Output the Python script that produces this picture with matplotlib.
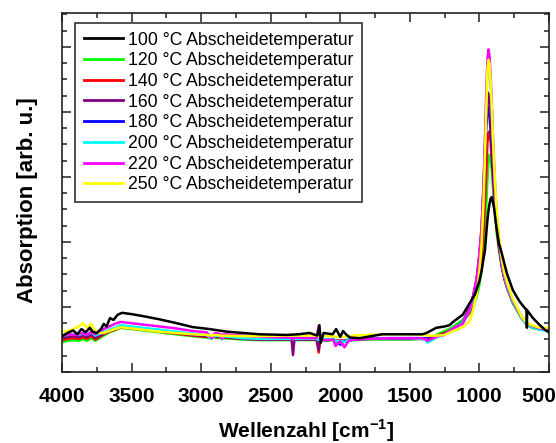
import matplotlib
matplotlib.use("Agg")
import matplotlib.pyplot as plt
from matplotlib.ticker import MultipleLocator
from matplotlib.transforms import ScaledTranslation

plt.rcParams['font.family'] = 'Liberation Sans'
plt.rcParams['mathtext.fontset'] = 'custom'
plt.rcParams['mathtext.rm'] = 'Liberation Sans'
plt.rcParams['mathtext.bf'] = 'Liberation Sans:bold'

# ---------------------------------------------------------------- data
labels = ["100 °C Abscheidetemperatur", "120 °C Abscheidetemperatur",
          "140 °C Abscheidetemperatur", "160 °C Abscheidetemperatur",
          "180 °C Abscheidetemperatur", "200 °C Abscheidetemperatur",
          "220 °C Abscheidetemperatur", "250 °C Abscheidetemperatur"]
colors = ["#000000", "#00ff00", "#ff0000", "#800080",
          "#0000ff", "#00ffff", "#ff00ff", "#ffff00"]

x_ticks = [4000, 3500, 3000, 2500, 2000, 1500, 1000, 500]
x_ticklabels = ["4000", "3500", "3000", "2500", "2000", "1500", "1000", "500"]

# 100 °C spectrum (own sampling, includes the noise spikes)
wn_100 = [4000, 3960, 3920, 3890, 3860, 3830, 3800, 3780, 3750, 3720,
          3700, 3680, 3655, 3630, 3600, 3569, 3500, 3420, 3300, 3175,
          3060, 2940, 2815, 2700, 2580, 2385, 2300, 2220, 2165, 2150,
          2140, 2120, 2055, 2030, 2000, 1980, 1955, 1930, 1860, 1700,
          1410, 1380, 1310, 1250, 1215, 1190, 1120, 1070, 1033, 1000,
          985, 970, 960, 950, 942, 935, 928, 920, 912, 905,
          895, 885, 875, 860, 840, 820, 803, 780, 760, 730,
          710, 665, 661, 659, 657, 616, 566, 530, 500]
abs_100 = [0.55, 0.60, 0.64, 0.58, 0.66, 0.61, 0.68, 0.62, 0.60, 0.66,
           0.74, 0.70, 0.83, 0.80, 0.88, 0.91, 0.89, 0.86, 0.81, 0.75,
           0.69, 0.66, 0.62, 0.60, 0.58, 0.57, 0.58, 0.60, 0.56, 0.72,
           0.45, 0.60, 0.58, 0.66, 0.54, 0.63, 0.57, 0.53, 0.52, 0.58,
           0.58, 0.60, 0.68, 0.70, 0.72, 0.77, 0.88, 1.06, 1.19, 1.40,
           1.55, 1.75, 1.88, 2.15, 2.35, 2.48, 2.58, 2.66, 2.69, 2.63,
           2.52, 2.35, 2.19, 1.98, 1.83, 1.66, 1.52, 1.38, 1.26, 1.15,
           1.08, 0.96, 0.96, 0.68, 0.95, 0.83, 0.72, 0.65, 0.61]

# common wavenumber sampling for the 120-250 °C spectra
wn_grid = [4000, 3960, 3920, 3880, 3850, 3820, 3790, 3760, 3730, 3700,
           3660, 3620, 3580, 3540, 3500, 3420, 3300, 3180, 3060, 2960,
           2925, 2900, 2860, 2850, 2840, 2700, 2580, 2400, 2350, 2340,
           2330, 2250, 2170, 2155, 2145, 2100, 2050, 2035, 2000, 1970,
           1940, 1900, 1800, 1650, 1500, 1420, 1385, 1375, 1300, 1250,
           1200, 1120, 1070, 1045, 1020, 1000, 985, 970, 960, 950,
           942, 935, 928, 920, 912, 905, 895, 885, 875, 860,
           840, 820, 800, 780, 760, 730, 700, 665, 625, 566,
           530, 500]

abs_120 = [0.46, 0.48, 0.49, 0.48, 0.50, 0.48, 0.52, 0.48, 0.52, 0.56,
           0.61, 0.64, 0.68, 0.67, 0.66, 0.64, 0.61, 0.58, 0.55, 0.53,
           0.52, 0.53, 0.52, 0.51, 0.52, 0.50, 0.49, 0.49, 0.49, 0.49,
           0.49, 0.49, 0.49, 0.47, 0.49, 0.48, 0.49, 0.47, 0.48, 0.47,
           0.48, 0.49, 0.50, 0.50, 0.50, 0.51, 0.51, 0.51, 0.58, 0.63,
           0.68, 0.80, 0.90, 1.00, 1.15, 1.35, 1.55, 1.85, 2.20, 2.60,
           3.00, 3.25, 3.34, 3.30, 3.12, 2.92, 2.62, 2.35, 2.12, 1.88,
           1.61, 1.42, 1.28, 1.17, 1.06, 0.95, 0.83, 0.74, 0.68, 0.65,
           0.65, 0.64]

abs_140 = [0.49, 0.51, 0.52, 0.51, 0.53, 0.51, 0.55, 0.50, 0.54, 0.58,
           0.62, 0.65, 0.69, 0.68, 0.67, 0.65, 0.62, 0.59, 0.56, 0.54,
           0.53, 0.54, 0.53, 0.52, 0.53, 0.51, 0.50, 0.50, 0.50, 0.49,
           0.50, 0.50, 0.50, 0.30, 0.50, 0.49, 0.50, 0.48, 0.49, 0.48,
           0.49, 0.50, 0.51, 0.51, 0.51, 0.51, 0.51, 0.51, 0.56, 0.60,
           0.64, 0.76, 0.92, 1.05, 1.25, 1.50, 1.75, 2.20, 2.65, 3.10,
           3.55, 3.68, 3.70, 3.55, 3.30, 3.05, 2.72, 2.42, 2.18, 1.92,
           1.63, 1.43, 1.29, 1.18, 1.07, 0.96, 0.84, 0.75, 0.69, 0.66,
           0.66, 0.66]

abs_160 = [0.52, 0.54, 0.55, 0.54, 0.56, 0.54, 0.58, 0.53, 0.56, 0.59,
           0.63, 0.66, 0.70, 0.69, 0.68, 0.66, 0.63, 0.60, 0.57, 0.55,
           0.54, 0.55, 0.54, 0.53, 0.54, 0.51, 0.50, 0.50, 0.50, 0.26,
           0.50, 0.50, 0.50, 0.34, 0.50, 0.49, 0.50, 0.47, 0.48, 0.47,
           0.49, 0.50, 0.51, 0.51, 0.51, 0.51, 0.51, 0.50, 0.55, 0.59,
           0.64, 0.77, 1.00, 1.17, 1.42, 1.80, 2.20, 2.88, 3.45, 4.00,
           4.30, 4.28, 4.12, 3.88, 3.58, 3.28, 2.90, 2.54, 2.25, 1.96,
           1.65, 1.44, 1.30, 1.19, 1.08, 0.97, 0.85, 0.76, 0.70, 0.66,
           0.65, 0.64]

abs_180 = [0.54, 0.56, 0.57, 0.56, 0.58, 0.56, 0.60, 0.55, 0.58, 0.60,
           0.64, 0.67, 0.71, 0.70, 0.69, 0.67, 0.64, 0.61, 0.58, 0.56,
           0.54, 0.56, 0.55, 0.53, 0.55, 0.52, 0.51, 0.51, 0.51, 0.48,
           0.51, 0.51, 0.51, 0.46, 0.51, 0.50, 0.50, 0.48, 0.42, 0.48,
           0.50, 0.51, 0.52, 0.52, 0.52, 0.52, 0.52, 0.51, 0.55, 0.58,
           0.64, 0.76, 0.98, 1.16, 1.42, 1.78, 2.15, 2.80, 3.30, 3.80,
           4.05, 4.08, 3.95, 3.72, 3.46, 3.18, 2.88, 2.54, 2.26, 1.97,
           1.66, 1.45, 1.30, 1.19, 1.08, 0.97, 0.85, 0.76, 0.70, 0.66,
           0.65, 0.64]

abs_200 = [0.56, 0.57, 0.58, 0.57, 0.59, 0.57, 0.61, 0.56, 0.59, 0.61,
           0.65, 0.68, 0.72, 0.71, 0.70, 0.68, 0.65, 0.62, 0.59, 0.57,
           0.51, 0.56, 0.55, 0.50, 0.55, 0.52, 0.51, 0.51, 0.51, 0.50,
           0.51, 0.51, 0.51, 0.49, 0.51, 0.50, 0.51, 0.47, 0.48, 0.46,
           0.50, 0.51, 0.51, 0.52, 0.52, 0.51, 0.50, 0.45, 0.54, 0.57,
           0.64, 0.76, 0.95, 1.12, 1.38, 1.75, 2.15, 2.85, 3.50, 4.20,
           4.62, 4.75, 4.68, 4.42, 4.06, 3.66, 3.18, 2.72, 2.38, 2.03,
           1.68, 1.46, 1.30, 1.19, 1.08, 0.97, 0.84, 0.75, 0.69, 0.65,
           0.64, 0.63]

abs_220 = [0.56, 0.58, 0.57, 0.58, 0.60, 0.57, 0.62, 0.58, 0.62, 0.66,
           0.70, 0.74, 0.77, 0.76, 0.75, 0.73, 0.70, 0.67, 0.63, 0.61,
           0.52, 0.60, 0.58, 0.51, 0.58, 0.56, 0.54, 0.53, 0.53, 0.50,
           0.53, 0.52, 0.52, 0.71, 0.50, 0.49, 0.50, 0.40, 0.47, 0.38,
           0.48, 0.50, 0.51, 0.52, 0.52, 0.52, 0.50, 0.48, 0.55, 0.57,
           0.66, 0.74, 0.97, 1.17, 1.43, 1.82, 2.21, 2.91, 3.61, 4.35,
           4.81, 4.96, 4.87, 4.57, 4.18, 3.74, 3.22, 2.74, 2.39, 2.04,
           1.69, 1.47, 1.32, 1.21, 1.10, 0.99, 0.86, 0.77, 0.71, 0.67,
           0.66, 0.65]

abs_250 = [0.62, 0.63, 0.66, 0.70, 0.75, 0.68, 0.74, 0.62, 0.60, 0.60,
           0.63, 0.66, 0.69, 0.68, 0.67, 0.65, 0.62, 0.60, 0.58, 0.57,
           0.56, 0.57, 0.56, 0.55, 0.56, 0.55, 0.55, 0.56, 0.56, 0.56,
           0.56, 0.56, 0.56, 0.55, 0.56, 0.55, 0.55, 0.54, 0.55, 0.54,
           0.55, 0.56, 0.57, 0.58, 0.58, 0.57, 0.57, 0.56, 0.56, 0.57,
           0.62, 0.69, 0.78, 0.95, 1.20, 1.55, 1.95, 2.65, 3.35, 4.10,
           4.66, 4.80, 4.74, 4.48, 4.12, 3.72, 3.25, 2.80, 2.45, 2.10,
           1.75, 1.52, 1.36, 1.24, 1.12, 1.00, 0.86, 0.77, 0.72, 0.68,
           0.68, 0.68]

spectra = [(wn_100, abs_100), (wn_grid, abs_120), (wn_grid, abs_140),
           (wn_grid, abs_160), (wn_grid, abs_180), (wn_grid, abs_200),
           (wn_grid, abs_220), (wn_grid, abs_250)]

# ---------------------------------------------------------------- figure
W, H = 556, 443
fig = plt.figure(figsize=(W / 100, H / 100), dpi=100)
ax = fig.add_axes([62 / W, 1 - 372 / H, 487 / W, 359 / H])

# draw 180 °C below 160 °C so the violet tip stays visible
zorders = [4, 2, 2, 2.2, 2.1, 2.3, 2.4, 2.5]
for (x, y), c, lab, z in zip(spectra, colors, labels, zorders):
    ax.plot(x, y, color=c, lw=1.8, label=lab, zorder=z)

ax.set_xlim(4000, 500)
ax.set_ylim(0, 5.52)
ax.set_xticks(x_ticks)
ax.set_xticklabels(x_ticklabels, fontsize=15, fontweight='bold')
ax.xaxis.set_minor_locator(MultipleLocator(250))
ax.yaxis.set_major_locator(MultipleLocator(1))
ax.yaxis.set_minor_locator(MultipleLocator(0.25))
ax.tick_params(which='both', direction='in', top=True, right=True,
               labelleft=False, width=1.1, color='#222222')
ax.tick_params(which='major', length=6.5)
ax.tick_params(which='minor', length=3.5)
ax.tick_params(axis='x', which='major', pad=11)
for s in ax.spines.values():
    s.set_linewidth(1.2)
    s.set_color('#222222')

# keep the last tick label inside the canvas
last = ax.get_xticklabels()[-1]
last.set_horizontalalignment('right')
last.set_transform(last.get_transform() + ScaledTranslation(7 / 100, 0, fig.dpi_scale_trans))

ax.set_xlabel('Wellenzahl [cm$^{\\mathbf{-1}}$]', fontsize=15, fontweight='bold')
ax.xaxis.set_label_coords(0.501, -0.127)
ax.set_ylabel('Absorption [arb. u.]', fontsize=16, fontweight='bold')
ax.yaxis.set_label_coords(-0.05, 0.48)

leg = ax.legend(loc='upper left', bbox_to_anchor=(13 / 487, 1 - 9.7 / 359),
                borderaxespad=0, fontsize=12.7, handlelength=2.2,
                handletextpad=0.3, labelspacing=0.21, borderpad=0.5,
                fancybox=False, edgecolor='#333333', framealpha=1)
leg.get_frame().set_linewidth(1.2)
for ln in leg.get_lines():
    ln.set_linewidth(2.0)

fig.savefig('out.png', dpi=100)
